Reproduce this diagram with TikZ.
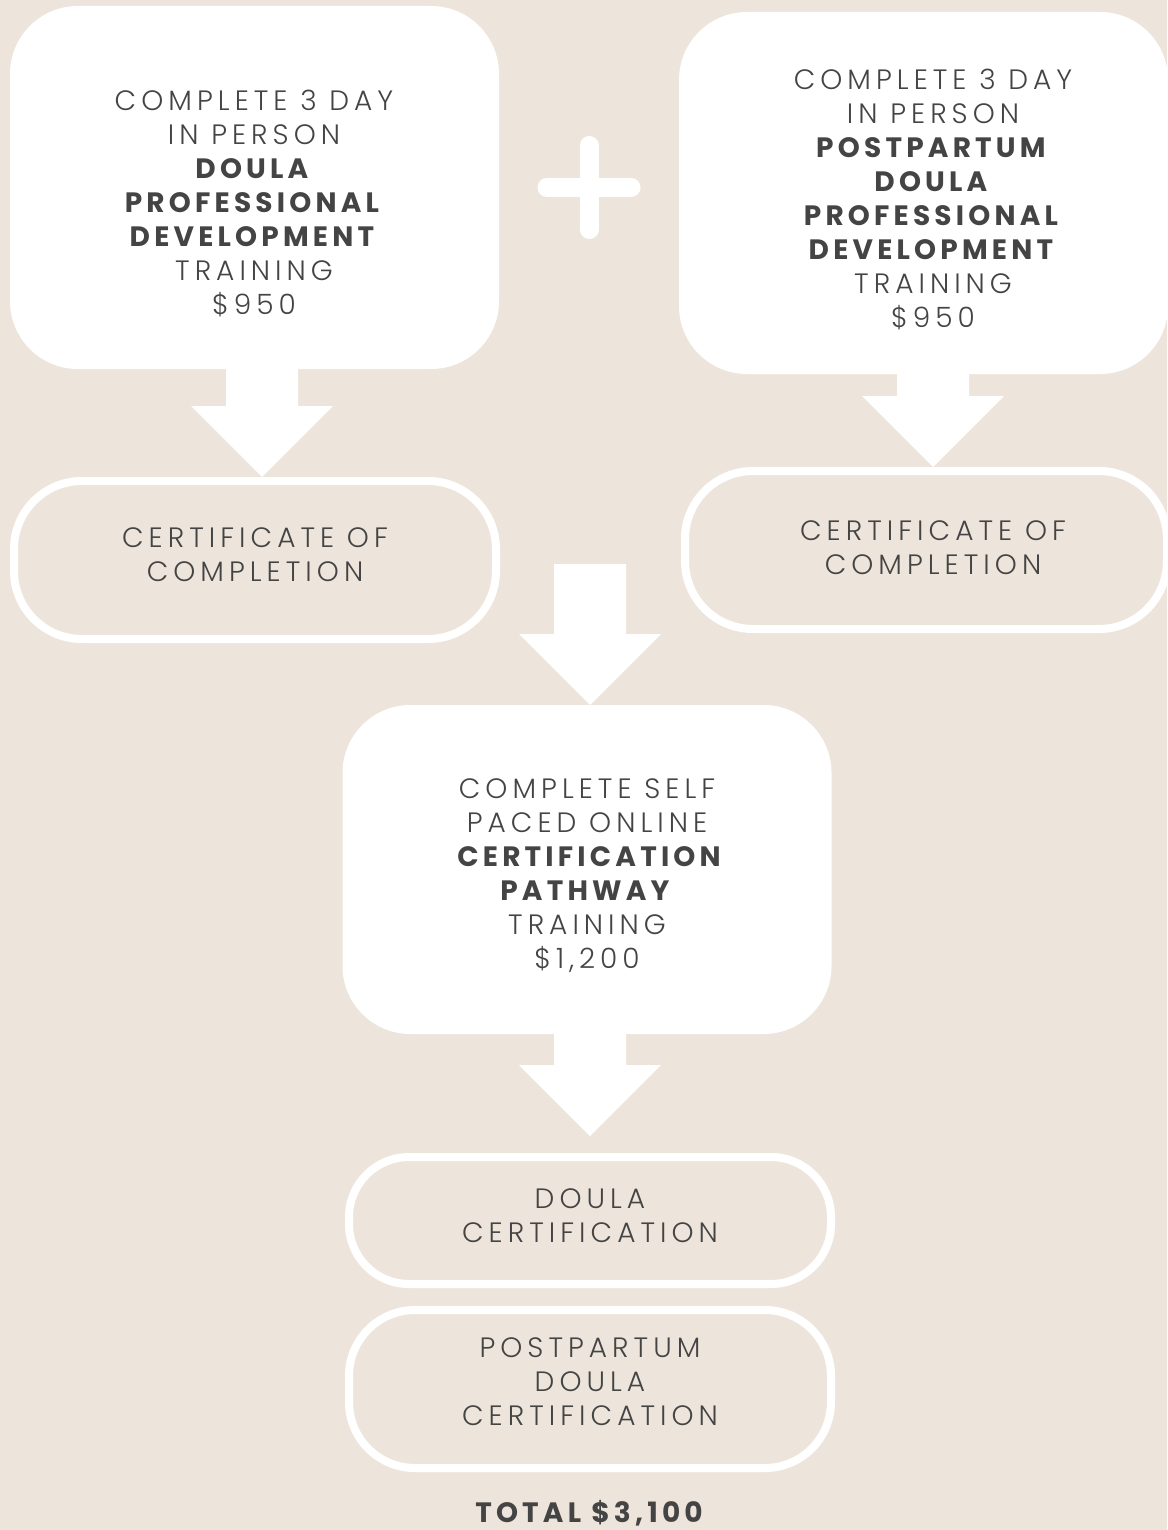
\documentclass[tikz,border=0pt]{standalone}
\usepackage{fontspec}
\setmainfont{Poppins}[UprightFont=* Light, BoldFont=* Bold,
  UprightFeatures={LetterSpace=18}, BoldFeatures={LetterSpace=15}]
\usetikzlibrary{calc}
\definecolor{sand}{RGB}{237,229,219}
\definecolor{ink}{RGB}{68,68,68}

\tikzset{
  card/.style={fill=white, draw=none, rounded corners=68pt, inner sep=0pt, outer sep=0pt},
  pill/.style={draw=white, line width=8pt, fill=none, inner sep=0pt, outer sep=4pt},
  txt/.style={text=ink, align=center, inner sep=0pt, font=\fontsize{28}{34}\selectfont},
  blockarrow/.style={fill=white, draw=none}
}

% block arrow: shaft from #1 down to the head, head tip at #2 (same x)
\newcommand\blockdown[2]{%
  \fill[blockarrow] ($(#1)+(-36,0)$) -- ($(#1)+(36,0)$) -- ($(#2)+(36,-71)$)
    -- ($(#2)+(71,-71)$) -- (#2) -- ($(#2)+(-71,-71)$) -- ($(#2)+(-36,-71)$) -- cycle;}

\begin{document}
\begin{tikzpicture}[x=1pt,y=-1pt]
  \fill[sand] (0,0) rectangle (1167,1530);
  \useasboundingbox (0,0) rectangle (1167,1530);

  % top row cards
  \node[card, minimum width=489pt, minimum height=363pt] (b1) at (254.5,187.5) {};
  \node[card, minimum width=489pt, minimum height=362pt] (b2) at (923.5,193) {};
  \node[txt] (t1) at (254,203) {COMPLETE 3 DAY\\IN PERSON\\\textbf{DOULA}\\\textbf{PROFESSIONAL}\\\textbf{DEVELOPMENT}\\TRAINING\\\$950};
  \node[txt] (t2) at (933,199) {COMPLETE 3 DAY\\IN PERSON\\\textbf{POSTPARTUM}\\\textbf{DOULA}\\\textbf{PROFESSIONAL}\\\textbf{DEVELOPMENT}\\TRAINING\\\$950};

  % plus sign between the cards
  \coordinate (pc) at (589,187.5);
  \draw[white, line width=19pt, line cap=round] ($(pc)+(0,-42)$) -- ($(pc)+(0,42)$);
  \draw[white, line width=19pt, line cap=round] ($(pc)+(-42,0)$) -- ($(pc)+(42,0)$);

  % certificate pills
  \node[pill, minimum width=482pt, minimum height=158pt, rounded corners=68pt] (p1) at (255,560) {};
  \node[pill, minimum width=482pt, minimum height=158pt, rounded corners=68pt] (p2) at (926,550) {};
  \node[txt] (tp1) at (255,555) {CERTIFICATE OF\\COMPLETION};
  \node[txt] (tp2) at (933,548) {CERTIFICATE OF\\COMPLETION};

  % arrows from the cards to the pills
  \coordinate (a1) at ($(b1.south)+(7.5,0)$);
  \coordinate (a1e) at (a1 |- p1.north);
  \blockdown{a1}{a1e}
  \coordinate (a2) at ($(b2.south)+(9.5,0)$);
  \coordinate (a2e) at (a2 |- p2.north);
  \blockdown{a2}{a2e}

  % online pathway card
  \node[card, minimum width=489pt, minimum height=329pt] (b3) at (587,869.5) {};
  \node[txt] (t3) at (587,876) {COMPLETE SELF\\PACED ONLINE\hspace{0.6em}\\\hspace{0.3em}\textbf{CERTIFICATION}\\\textbf{PATHWAY}\\TRAINING\\\$1,200};
  \coordinate (a3) at (590,564);
  \coordinate (a3e) at (a3 |- b3.north);
  \blockdown{a3}{a3e}

  % certification pills
  \node[pill, minimum width=482pt, minimum height=127pt, rounded corners=60pt] (p3) at (590,1220.5) {};
  \node[pill, minimum width=482pt, minimum height=158pt, rounded corners=66pt] (p4) at (590,1389) {};
  \node[txt] (tp3) at (590,1216) {DOULA\\CERTIFICATION};
  \node[txt] (tp4) at (590,1382) {POSTPARTUM\\DOULA\\CERTIFICATION};
  \coordinate (a4) at ($(b3.south)+(3,0)$);
  \coordinate (a4e) at ($(a4 |- p3.north)+(0,-17)$);
  \blockdown{a4}{a4e}

  % total
  \node[txt, font=\fontsize{28}{34}\selectfont\bfseries] (tot) at (589,1513) {TOTAL \$3,100};
\end{tikzpicture}
\end{document}
